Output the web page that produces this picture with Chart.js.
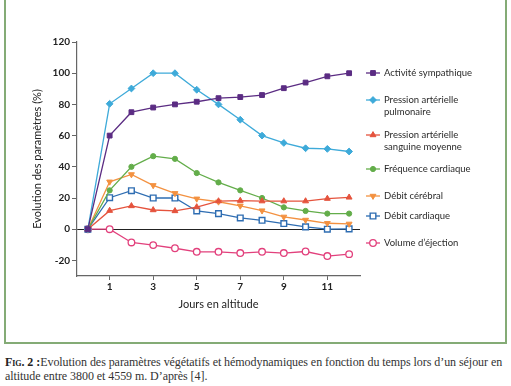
<!DOCTYPE html>
<html><head><meta charset="utf-8">
<script src="https://cdn.jsdelivr.net/npm/chart.js@4.4.1/dist/chart.umd.min.js"></script>
<style>
html,body{margin:0;padding:0;background:#fff;width:511px;height:386px;overflow:hidden;position:relative;}
#box{position:absolute;left:4px;top:-6px;width:499px;height:346px;border:2px solid #84ab76;box-sizing:content-box;}
#wrap{position:absolute;left:0;top:0;width:511px;height:330px;}
#cap{position:absolute;left:5px;top:355px;width:506px;font-family:"Liberation Serif",serif;font-size:12px;letter-spacing:-0.06px;line-height:14px;color:#333;white-space:nowrap;}
#cap b{font-variant:small-caps;color:#222;}
</style></head><body>
<div id="box"></div>
<div id="wrap"><canvas id="c" width="511" height="330"></canvas></div>
<div id="cap"><b>Fig. 2 :</b>Evolution des paramètres végétatifs et hémodynamiques en fonction du temps lors d’un séjour en<br>altitude entre 3800 et 4559 m. D’après [4].</div>
<script>
const days = [0,1,2,3,4,5,6,7,8,9,10,11,12];
const xTicks = [1,3,5,7,9,11];
const yTicks = [-20,0,20,40,60,80,100,120];
const seriesNames = [
  ["Activité sympathique"],
  ["Pression artérielle","pulmonaire"],
  ["Pression artérielle","sanguine moyenne"],
  ["Fréquence cardiaque"],
  ["Débit cérébral"],
  ["Débit cardiaque"],
  ["Volume d’éjection"]
];
const activiteSympathique = [0,60,75,78,80,81.7,84,84.7,86,90.4,94,98,100];
const pressionPulmonaire  = [0,80.4,90.2,100,100,89.4,80,70.2,60,55.3,51.9,51.5,49.8];
const pressionMoyenne     = [0,11.9,14.9,12.3,11.7,14.2,18,18.3,18,18,18,19.6,20.4];
const frequenceCardiaque  = [0,24.9,40,46.8,45.1,36,30,24.9,20,14,11.7,10,10];
const debitCerebral       = [0,30.4,35.1,28.1,23,19.5,17.6,15,11.9,7.9,5.9,3.8,3.4];
const debitCardiaque      = [0,20.2,24.7,20,20,11.7,10,7.2,5.7,3.6,1.5,0,0.2];
const volumeEjection      = [0,0,-8.5,-10.2,-12.2,-14.5,-14.5,-15.3,-14.5,-15.3,-14.3,-17.2,-16];

const FONT = "Lato";
function pts(arr){return days.map((d,i)=>({x:d,y:arr[i]}));}
function ds(arr,color,style,opts){
  return Object.assign({data:pts(arr),borderColor:color,backgroundColor:color,pointBorderColor:color,
    pointBackgroundColor:color,borderWidth:1.3,pointStyle:style,pointRadius:3,pointBorderWidth:1,tension:0},opts||{});
}
const datasets = [
  ds(activiteSympathique,'#5b2c83','rect',{pointRadius:3.4}),
  ds(pressionPulmonaire,'#3eaad9','rectRot',{pointRadius:3.4}),
  ds(pressionMoyenne,'#e5533d','triangle',{pointRadius:3.4}),
  ds(frequenceCardiaque,'#63ad4a','circle',{pointRadius:2.6}),
  ds(debitCerebral,'#f39140','triangle',{pointRadius:3.4,pointRotation:180}),
  ds(debitCardiaque,'#2e6db2','rect',{pointRadius:4,pointBackgroundColor:'#fff',pointBorderWidth:1.4}),
  ds(volumeEjection,'#e2407c','circle',{pointRadius:3.3,pointBackgroundColor:'#fff',pointBorderWidth:1.3})
];
datasets.forEach((d,i)=>d.label=seriesNames[i].join(' '));

const legendRows = [73,100,135,169,196,216,243];
const legendPlugin = {
  id:'sideLegend',
  afterDraw(chart){
    const ctx = chart.ctx;
    ctx.save();
    chart.data.datasets.forEach((d,i)=>{
      const y = legendRows[i];
      const mx = 373;
      ctx.strokeStyle = d.borderColor; ctx.lineWidth = 1.3;
      ctx.beginPath(); ctx.moveTo(mx-7,y); ctx.lineTo(mx+7,y); ctx.stroke();
      ctx.fillStyle = d.pointBackgroundColor; ctx.strokeStyle = d.pointBorderColor; ctx.lineWidth=d.pointBorderWidth;
      ctx.beginPath();
      Chart.helpers.drawPoint(ctx,{pointStyle:d.pointStyle,rotation:d.pointRotation||0,radius:d.pointRadius,borderWidth:d.pointBorderWidth},mx,y);
      ctx.fillStyle = '#2a2a2a';
      ctx.font = "9.5px " + FONT;
      ctx.textBaseline = 'middle'; ctx.textAlign='left';
      seriesNames[i].forEach((t,k)=>ctx.fillText(t,384,y+k*11.7));
    });
    ctx.restore();
  }
};

new Chart(document.getElementById('c'),{
  type:'line',
  data:{datasets},
  options:{
    responsive:false,animation:false,
    layout:{padding:{left:0,right:151,top:42,bottom:0}},
    plugins:{legend:{display:false},tooltip:{enabled:false}},
    scales:{
      x:{type:'linear',min:-0.5,max:12.5,
        afterBuildTicks(s){s.ticks=xTicks.map(v=>({value:v}));},
        afterFit(s){s.height=54;},
        border:{color:'#666',width:1.2},
        grid:{drawOnChartArea:false,drawTicks:true,tickLength:4,tickColor:'#666'},
        ticks:{color:'#222',font:{family:FONT,size:10,weight:'bold'},padding:1,maxRotation:0},
        title:{display:true,text:'Jours en altitude',color:'#222',font:{family:FONT,size:11},padding:{top:0,bottom:19}}
      },
      y:{type:'linear',min:-30,max:120,
        afterBuildTicks(s){s.ticks=yTicks.map(v=>({value:v}));},
        afterFit(s){s.width=77;},
        border:{color:'#666',width:1.2},
        grid:{color:ctx=>ctx.tick&&ctx.tick.value===0?'#222':'rgba(0,0,0,0)',borderDash:[3,3],lineWidth:1,
              drawTicks:true,tickLength:5,tickColor:'#666',tickBorderDash:[]},
        ticks:{color:'#222',font:{family:FONT,size:10,weight:'bold'},padding:2},
        title:{display:true,text:'Evolution des paramètres (%)',color:'#222',font:{family:FONT,size:11},padding:{top:31,bottom:0}}
      }
    }
  },
  plugins:[legendPlugin]
});
</script>
</body></html>
